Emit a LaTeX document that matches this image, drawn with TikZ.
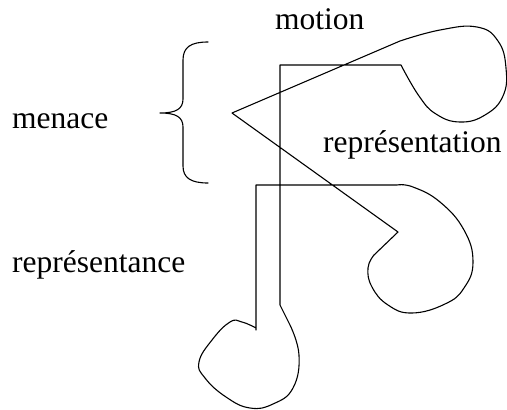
\documentclass[tikz,border=0pt]{standalone}
\usepackage{fontspec}
\setmainfont{Liberation Serif}
\begin{document}
\begin{tikzpicture}[x=1pt,y=-1pt,
  lbl/.style={anchor=base west,inner sep=0pt,font=\fontsize{31.5}{36}\selectfont},
  strokeline/.style={line width=1.1pt,line join=round,line cap=round}]
\useasboundingbox (0,0) rectangle (507,410);
% labels
\node[lbl] (motion) at (275,29) {motion};
\node[lbl] (menace) at (12,128) {menace};
\node[lbl] (repn) at (323,152) {représentation};
\node[lbl] (repc) at (12,272) {représentance};
% brace
\draw[strokeline] (208,42) .. controls (191,42) and (183,47) .. (183,60)
  -- (183,99) .. controls (183,109) and (176,113) .. (160,113)
  .. controls (176,113) and (183,117) .. (183,127)
  -- (183,166) .. controls (183,178) and (191,183) .. (208,183);
% the figure
\coordinate (V) at (232,113);
\draw[strokeline] (V) -- (400,41)
  -- plot[smooth,tension=0.75] coordinates {(400,41) (440,30) (477,27) (498,41) (506,68) (503,96) (485,115) (460,122) (436,114) (419,96) (401,65)}
  -- (280,65) -- (280,305) -- (290,325)
  -- plot[smooth,tension=0.75] coordinates {(290,325) (299,355) (293,388) (273,404) (250,408) (226,397) (205,378) (199,362) (212,340) (230,322) (242,322) (256,328)}
  -- (256,330) -- (256,185) -- (397,185)
  -- plot[smooth,tension=0.75] coordinates {(397,185) (413,187) (440,202) (464,230) (473,262) (464,288) (445,304) (412,313) (388,305) (372,287) (368,268) (374,255)}
  -- (398,232) -- (V);
\end{tikzpicture}
\end{document}
